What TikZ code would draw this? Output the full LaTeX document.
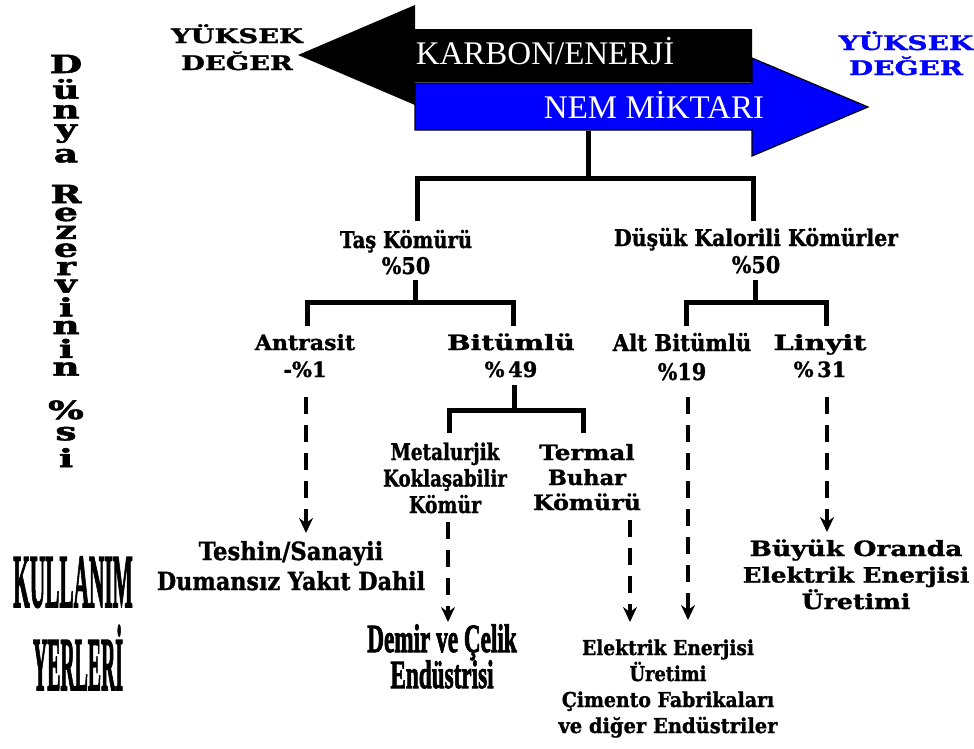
\documentclass[tikz,border=0pt]{standalone}
\usepackage{fontspec}
\setmainfont{Liberation Serif}
\newfontfamily\slab{DejaVu Serif Bold}[FakeBold=1.3]
\newfontfamily\vslab{DejaVu Serif Bold}[FakeBold=2]
\newfontfamily\heavy{Liberation Serif Bold}[FakeBold=2.5]
\usetikzlibrary{arrows.meta}
\definecolor{refblue}{RGB}{0,0,255}
\newcommand\lines[1]{\vtop{\halign{\hfil##\hfil\cr#1\crcr}}}
\newcommand\sx[2]{\scalebox{#1}[1]{#2}}
\newcommand\vstack[2]{\baselineskip=0pt\relax\lineskip=#1pt\relax\lineskiplimit=0pt\relax\lines{#2}}
\tikzset{
  tree/.style={line width=5pt, line join=miter},
  flow/.style={line width=4pt, dash pattern=on 17pt off 11pt, -{Stealth[length=15pt,width=14pt,inset=5pt]}},
  base/.style={anchor=base, inner sep=0pt, outer sep=0pt},
  sl/.style={base, font=\slab\fontsize{21}{27}\selectfont},
  cd/.style={base, font=\slab\fontsize{23}{27}\selectfont},
  vword/.style={base, font=\vslab\fontsize{25}{25}\selectfont},
}
\begin{document}
\begin{tikzpicture}[x=1pt,y=-1pt]
\useasboundingbox (0,0) rectangle (974,748);
% top arrows
\fill[black] (298,55) -- (415,5) -- (415,29) -- (752,29) -- (752,82) -- (415,82) -- (415,105) -- cycle;
\filldraw[fill=refblue, draw=black, line width=1.2pt] (415,83) -- (752,83) -- (752,58) -- (868,107) -- (752,156) -- (752,130) -- (415,130) -- cycle;
\node[base, text=white, font=\fontsize{33}{33}\selectfont] (karbon) at (545,64) {KARBON/ENERJİ};
\node[base, text=white, font=\fontsize{33}{33}\selectfont] (nem) at (654,118) {NEM MİKTARI};
\node[sl, font=\slab\fontsize{20}{27}\selectfont] (hvL) at (237,43) {\lines{\sx{1.37}{YÜKSEK}\cr\sx{1.37}{DEĞER}}};
\node[sl, text=refblue, font=\slab\fontsize{20}{25}\selectfont] (hvR) at (906,50) {\lines{\sx{1.4}{YÜKSEK}\cr\sx{1.4}{DEĞER}}};
% vertical text
\node[vword] (w1) at (66,73) {\vstack{6}{\sx{1.5}{D}\cr\sx{1.5}{ü}\cr\sx{1.5}{n}\cr\sx{1.5}{y}\cr\sx{1.5}{a}}};
\node[vword] (w2) at (66,203) {\vstack{4.6}{\sx{1.5}{R}\cr\sx{1.5}{e}\cr\sx{1.5}{z}\cr\sx{1.5}{e}\cr\sx{1.5}{r}\cr\sx{1.5}{v}\cr\sx{1.5}{i}\cr\sx{1.5}{n}\cr\sx{1.5}{i}\cr\sx{1.5}{n}}};
\node[vword] (w3) at (66,419) {\vstack{7.5}{\sx{1.5}{\%}\cr\sx{1.5}{s}\cr\sx{1.5}{i}}};
% side labels
\node[base, font=\heavy\fontsize{76}{76}\selectfont] (kul) at (73,607) {\sx{0.28}{KULLANIM}};
\node[base, font=\heavy\fontsize{76}{76}\selectfont] (yer) at (78,690) {\sx{0.26}{YERLERİ}};
% level 1
\node[cd, font=\slab\fontsize{23}{26}\selectfont] (tas) at (406,248) {\lines{\sx{0.85}{Taş Kömürü}\cr\sx{0.9}{\%50}}};
\node[cd] (dus) at (756,246) {\lines{\sx{0.89}{Düşük Kalorili Kömürler}\cr\sx{0.9}{\%50}}};
% level 2
\node[sl] (antr) at (305,350) {\lines{\sx{1.05}{Antrasit}\cr-\%1}};
\node[sl] (bit) at (511,350) {\lines{\sx{1.33}{Bitümlü}\cr\%\,49}};
\node[cd, font=\slab\fontsize{23}{29}\selectfont] (alt) at (682,351) {\lines{\sx{0.92}{Alt Bitümlü}\cr\sx{0.9}{\%19}}};
\node[sl] (lin) at (820,350) {\lines{\sx{1.37}{Linyit}\cr\%\,31}};
% level 3
\node[cd, font=\slab\fontsize{23}{26.5}\selectfont] (met) at (445,460) {\lines{\sx{0.8}{Metalurjik}\cr\sx{0.79}{Koklaşabilir}\cr\sx{0.82}{Kömür}}};
\node[sl, font=\slab\fontsize{21}{25}\selectfont] (ter) at (587,460) {\lines{\sx{1.17}{Termal}\cr\sx{1.07}{Buhar}\cr\sx{1.13}{Kömürü}}};
% uses
\node[cd, font=\slab\fontsize{25}{30}\selectfont] (tes) at (291,560) {\lines{\sx{0.91}{Teshin/Sanayii}\cr\sx{0.89}{Dumansız Yakıt Dahil}}};
\node[base, font=\heavy\fontsize{40}{36}\selectfont] (dem) at (442,652) {\lines{\sx{0.58}{Demir ve Çelik}\cr\sx{0.58}{Endüstrisi}}};
\node[cd, font=\slab\fontsize{20.5}{26}\selectfont] (ele) at (668,655) {\lines{\sx{0.91}{Elektrik Enerjisi}\cr\sx{0.87}{Üretimi}\cr\sx{0.92}{Çimento Fabrikaları}\cr\sx{0.95}{ve diğer Endüstriler}}};
\node[sl, font=\slab\fontsize{21}{26.5}\selectfont] (buy) at (856,556) {\lines{\sx{1.26}{Büyük Oranda}\cr\sx{1.17}{Elektrik Enerjisi}\cr\sx{1.2}{Üretimi}}};
% tree connectors
\coordinate (s0) at (588,131); \coordinate (j0) at (588,178);
\coordinate (tasIn) at (417,221); \coordinate (dusIn) at (753,221);
\draw[tree] (s0) -- (j0);
\draw[tree] (tasIn) |- (j0) -| (dusIn);
\coordinate (tasOut) at (415,280); \coordinate (tasJ) at (415,302);
\coordinate (antrIn) at (307,326); \coordinate (bitIn) at (513,326);
\draw[tree] (tasOut) -- (tasJ);
\draw[tree] (antrIn) |- (tasJ) -| (bitIn);
\coordinate (dusOut) at (755,280); \coordinate (dusJ) at (755,302);
\coordinate (altIn) at (686,326); \coordinate (linIn) at (826,326);
\draw[tree] (dusOut) -- (dusJ);
\draw[tree] (altIn) |- (dusJ) -| (linIn);
\coordinate (bitOut) at (514,385); \coordinate (bitJ) at (514,410);
\coordinate (metIn) at (449,433); \coordinate (terIn) at (583,433);
\draw[tree] (bitOut) -- (bitJ);
\draw[tree] (metIn) |- (bitJ) -| (terIn);
% dashed flows
\coordinate (antrOut) at (306,397); \coordinate (tesIn) at (306,533);
\coordinate (metOut) at (448,522); \coordinate (demIn) at (448,622);
\coordinate (terOut) at (630,520); \coordinate (eleInA) at (630,622);
\coordinate (altOut) at (688,397); \coordinate (eleInB) at (688,620);
\coordinate (linOut) at (827,397); \coordinate (buyIn) at (827,532);
\draw[flow] (antrOut) -- (tesIn);
\draw[flow] (metOut) -- (demIn);
\draw[flow] (terOut) -- (eleInA);
\draw[flow] (altOut) -- (eleInB);
\draw[flow] (linOut) -- (buyIn);
\end{tikzpicture}
\end{document}
